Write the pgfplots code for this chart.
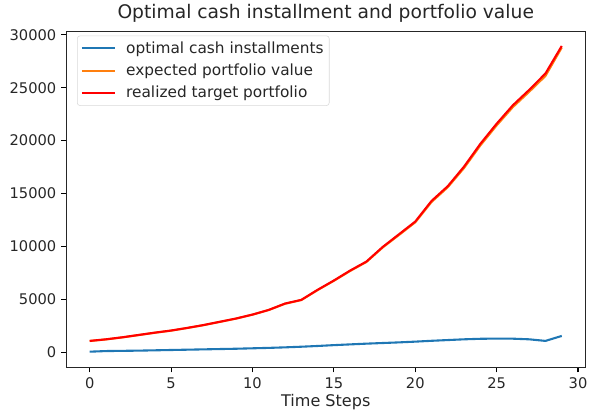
\documentclass[border=0pt]{standalone}
\usepackage{fontspec}
\setmainfont{DejaVu Sans}
\usepackage{pgfplots}
\pgfplotsset{compat=1.18}
\definecolor{mplblue}{HTML}{1F77B4}
\definecolor{mplorange}{HTML}{FF7F0E}
\begin{document}
\begin{tikzpicture}
\begin{axis}[
  scale only axis,
  width=372pt, height=241pt,
  xmin=-1.45, xmax=30.45,
  ymin=-1450, ymax=30350,
  xtick={0,5,...,30},
  ytick={0,5000,10000,15000,20000,25000,30000},
  scaled ticks=false,
  /pgf/number format/assume math mode=true,
  /pgf/number format/set thousands separator={},
  tick label style={font=\fontsize{10.5}{12}\selectfont, color=black!85},
  yticklabel style={text width=37pt, align=right},
  tick align=outside,
  tick pos=left,
  major tick length=3.5pt,
  every tick/.style={black, line width=0.8pt},
  axis line style={line width=0.8pt, black!85},
  title={Optimal cash installment and portfolio value},
  title style={font=\fontsize{13.4}{15}\selectfont, color=black!85, yshift=-3.5pt},
  xlabel={Time Steps},
  xlabel style={font=\fontsize{11.5}{13}\selectfont, color=black!85, yshift=3pt},
  legend cell align=left,
  legend style={font=\fontsize{11}{13}\selectfont, draw=black!15, rounded corners=2pt, text=black!85,
    at={(0.021,0.987)}, anchor=north west, row sep=3.2pt, inner sep=2.5pt,
    nodes={inner sep=1.5pt}},
  legend image code/.code={\draw[#1, line width=1.5pt] (0pt,0pt) -- (23.6pt,0pt);
    \path (29.5pt,0pt);},
  every axis plot/.append style={line join=round},
]
\addplot[mplblue, line width=1.5pt] coordinates {
(0,50) (1,110) (2,130) (3,150) (4,180) (5,210) (6,240) (7,270) (8,300) (9,330)
(10,370) (11,410) (12,460) (13,520) (14,590) (15,670) (16,740) (17,810) (18,870) (19,930)
(20,1000) (21,1080) (22,1150) (23,1220) (24,1270) (25,1290) (26,1280) (27,1220) (28,1070) (29,1540)
};
\addlegendentry{optimal cash installments}
\addplot[mplorange, line width=1.5pt] coordinates {
(0,1060) (1,1210) (2,1400) (3,1620) (4,1840) (5,2040) (6,2290) (7,2560) (8,2870) (9,3180)
(10,3550) (11,3990) (12,4580) (13,4930) (14,5870) (15,6750) (16,7680) (17,8530) (18,9900) (19,11080)
(20,12280) (21,14200) (22,15600) (23,17420) (24,19550) (25,21440) (26,23180) (27,24620) (28,26120) (29,28800)
};
\addlegendentry{expected portfolio value}
\addplot[red, line width=1.5pt] coordinates {
(0,1070) (1,1220) (2,1410) (3,1630) (4,1850) (5,2050) (6,2300) (7,2570) (8,2880) (9,3190)
(10,3560) (11,4000) (12,4600) (13,4950) (14,5900) (15,6780) (16,7720) (17,8570) (18,9950) (19,11150)
(20,12350) (21,14300) (22,15700) (23,17550) (24,19700) (25,21600) (26,23350) (27,24800) (28,26350) (29,28950)
};
\addlegendentry{realized target portfolio}
\end{axis}
\end{tikzpicture}
\end{document}
